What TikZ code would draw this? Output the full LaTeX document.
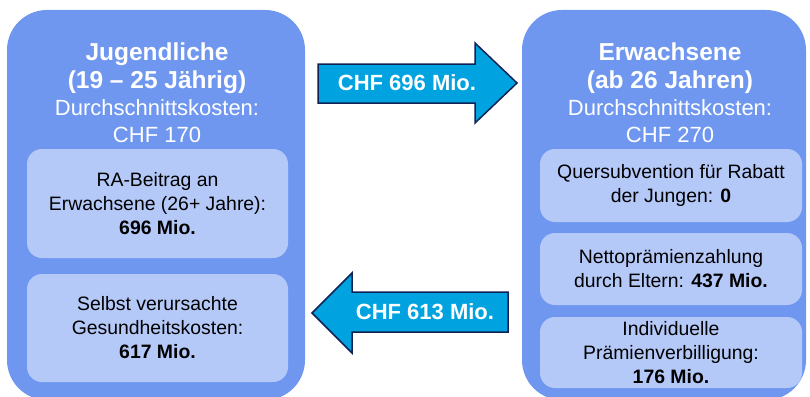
\documentclass[tikz,border=0pt]{standalone}
\usepackage{fontspec}
\setmainfont{Liberation Sans}

\definecolor{groupblue}{RGB}{111,151,240}
\definecolor{itemblue}{RGB}{181,201,249}
\definecolor{flowcyan}{RGB}{0,163,224}
\definecolor{flownavy}{RGB}{16,34,84}

\tikzset{
  groupbox/.style={fill=groupblue, rounded corners=40, inner sep=0},
  itembox/.style={fill=itemblue, rounded corners=15, align=center, inner sep=0,
    font=\fontsize{19.4}{24}\selectfont},
  headtext/.style={text=white, anchor=base, font=\bfseries\fontsize{24.5}{28}\selectfont},
  costtext/.style={text=white, anchor=base, font=\fontsize{22}{27}\selectfont},
  flowarrow/.style={fill=flowcyan, draw=flownavy, line width=1.5, line join=miter},
  flowtext/.style={text=white, font=\bfseries\fontsize{22}{26}\selectfont},
}

\begin{document}
\begin{tikzpicture}[x=1pt,y=1pt,yscale=-1]
\useasboundingbox (0,0) rectangle (810,396);
\clip (0,0) rectangle (810,396);

% left group
\node[groupbox, minimum width=298, minimum height=390] (youth) at (156,205) {};
\node[headtext] (youthname) at (157,60) {Jugendliche};
\node[headtext] (youthage) at (157,88) {(19 – 25 Jährig)};
\node[costtext] (youthcost) at (157,115) {Durchschnittskosten:};
\node[costtext] (youthchf) at (157,142) {CHF 170};

\node[itembox, minimum width=261, minimum height=109] (contrib) at (157.5,203.5)
  {RA-Beitrag an\\Erwachsene (26+ Jahre):\\\textbf{696 Mio.}};
\node[itembox, minimum width=261, minimum height=108] (owncost) at (157.5,328)
  {Selbst verursachte\\Gesundheitskosten:\\\textbf{617 Mio.}};

% right group
\node[groupbox, minimum width=284, minimum height=390] (adults) at (664,205) {};
\node[headtext] (adultname) at (670,60) {Erwachsene};
\node[headtext] (adultage) at (670,88) {(ab 26 Jahren)};
\node[costtext] (adultcost) at (670,115) {Durchschnittskosten:};
\node[costtext] (adultchf) at (670,142) {CHF 270};

\node[itembox, minimum width=262, minimum height=73] (subsidy) at (671,185.5)
  {Quersubvention für Rabatt\\der Jungen: \textbf{0}};
\node[itembox, minimum width=262, minimum height=72] (netpay) at (671,269)
  {Nettoprämienzahlung\\durch Eltern: \textbf{437 Mio.}};
\node[itembox, minimum width=262, minimum height=71] (reduction) at (671,352.5)
  {Individuelle\\Prämienverbilligung:\\\textbf{176 Mio.}};

% flows
\draw[flowarrow] (318,64) -- (475,64) -- (475,43) -- (517,83) -- (475,123) -- (475,103) -- (318,103) -- cycle;
\node[flowtext] (toadults) at (407,83) {CHF 696 Mio.};

\draw[flowarrow] (508,292) -- (352,292) -- (352,273) -- (312,313) -- (352,353) -- (352,332) -- (508,332) -- cycle;
\node[flowtext] (toyouth) at (425,312) {CHF 613 Mio.};

\end{tikzpicture}
\end{document}
